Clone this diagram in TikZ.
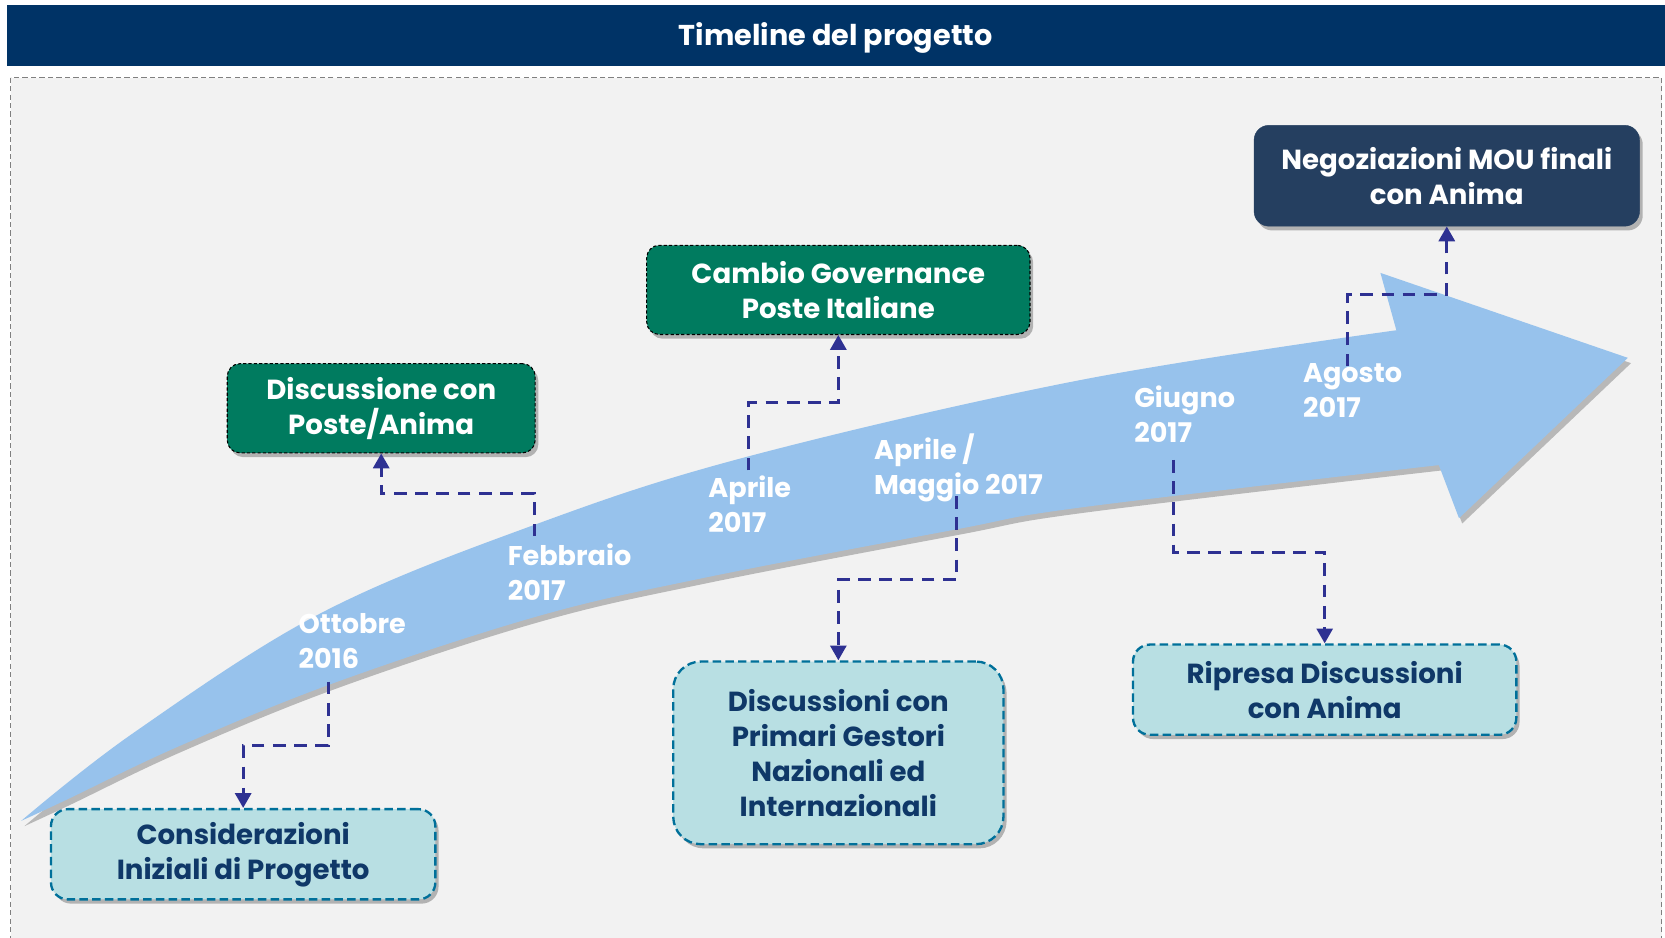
\documentclass[tikz,border=0pt]{standalone}
\usepackage{fontspec}
\setmainfont{Poppins}
\usetikzlibrary{arrows.meta,shadows,calc}
\definecolor{hdr}{RGB}{0,51,102}
\definecolor{bgc}{RGB}{242,242,242}
\definecolor{arrc}{RGB}{151,194,236}
\definecolor{grn}{RGB}{0,123,95}
\definecolor{navy}{RGB}{37,63,96}
\definecolor{tealf}{RGB}{184,223,227}
\definecolor{tealb}{RGB}{0,112,154}
\definecolor{txtb}{RGB}{15,56,104}
\definecolor{conc}{RGB}{46,49,146}
\tikzset{
  boxshadow/.style={drop shadow={shadow xshift=3pt,shadow yshift=-4pt,opacity=0.45,fill=black!60}},
  greenbox/.style={draw=black,densely dashed,line width=1pt,fill=grn,rounded corners=12pt,
    text=white,font=\bfseries\fontsize{26}{33}\selectfont,align=center,boxshadow},
  navybox/.style={draw=navy,fill=navy,rounded corners=14pt,
    text=white,font=\bfseries\fontsize{26}{33}\selectfont,align=center,boxshadow},
  tealbox/.style={draw=tealb,dash pattern=on 8pt off 4pt,line width=2.2pt,fill=tealf,rounded corners=16pt,
    text=txtb,font=\bfseries\fontsize{26}{33}\selectfont,align=center,boxshadow},
  datelab/.style={anchor=west,align=left,inner sep=0pt,text=white,font=\bfseries\fontsize{25.5}{33}\selectfont},
  conn/.style={draw=conc,line width=3pt,dash pattern=on 12pt off 8pt,-{Triangle[length=14pt,width=15pt]}},
}
\begin{document}
\begin{tikzpicture}[x=1pt,y=-1pt]
\useasboundingbox (0,0) rectangle (1568,883);
% header
\fill[hdr] (7,5) rectangle (1568,62);
\node[text=white,font=\bfseries\fontsize{27}{30}\selectfont] (title) at (787,36) {Timeline del progetto};
% frame
\draw[draw=gray,fill=bgc,dash pattern=on 5pt off 3pt,line width=1pt] (10,73) rectangle (1565,890);
% big arrow
\fill[arrc,drop shadow={shadow xshift=3pt,shadow yshift=-5pt,opacity=0.35,fill=black!70}]
  plot[smooth,tension=0.6] coordinates {(20,773) (126,690) (303,577) (504,494) (704,430) (1017,358) (1315,311)}
  -- (1300,257) -- (1533,337) -- (1374,488) -- (1355,438)
  -- plot[smooth,tension=0.6] coordinates {(1355,438) (1017,478) (898,499) (659,545) (504,581) (315,643) (168,703) (63,753) (20,773)}
  -- cycle;
% boxes
\node[greenbox,minimum width=290pt,minimum height=84pt] (b1) at (359,384.5) {Discussione con\\Poste/Anima};
\node[greenbox,minimum width=361pt,minimum height=84pt] (b2) at (789.5,273) {Cambio Governance\\Poste Italiane};
\node[navybox,minimum width=363pt,minimum height=95pt] (b3) at (1362.5,165.5) {Negoziazioni MOU finali\\con Anima};
\node[tealbox,minimum width=362pt,minimum height=85pt] (b4) at (229,804.5) {Considerazioni\\Iniziali di Progetto};
\node[tealbox,rounded corners=26pt,minimum width=311pt,minimum height=172pt] (b5) at (789.5,709) {Discussioni con\\Primari Gestori\\Nazionali ed\\Internazionali};
\node[tealbox,minimum width=361pt,minimum height=85pt] (b6) at (1247.5,649.5) {Ripresa Discussioni\\con Anima};
% date labels
\node[datelab] (l1) at (281,604) {Ottobre\\2016};
\node[datelab] (l2) at (478,539) {Febbraio\\2017};
\node[datelab] (l3) at (667,475) {Aprile\\2017};
\node[datelab] (l4) at (823,441) {Aprile /\\Maggio 2017};
\node[datelab] (l5) at (1068,390) {Giugno\\2017};
\node[datelab] (l6) at (1227,368) {Agosto\\2017};
% connector coordinates
\coordinate (s1) at (309,642); \coordinate (m1) at (309,702);
\coordinate (s2) at (503,505); \coordinate (m2) at (503,465);
\coordinate (s3) at (705,443); \coordinate (m3) at (705,379);
\coordinate (s4) at (901,467); \coordinate (m4) at (901,546);
\coordinate (s5) at (1105,433); \coordinate (m5) at (1105,520);
\coordinate (s6) at (1269,345); \coordinate (m6) at (1269,277);
\draw[conn] (s1) -- (m1) -| (b4.north);
\draw[conn] (s2) -- (m2) -| (b1.south);
\draw[conn] (s3) -- (m3) -| (b2.south);
\draw[conn] (s4) -- (m4) -| (b5.north);
\draw[conn] (s5) -- (m5) -| (b6.north);
\draw[conn] (s6) -- (m6) -| (b3.south);
\end{tikzpicture}
\end{document}
